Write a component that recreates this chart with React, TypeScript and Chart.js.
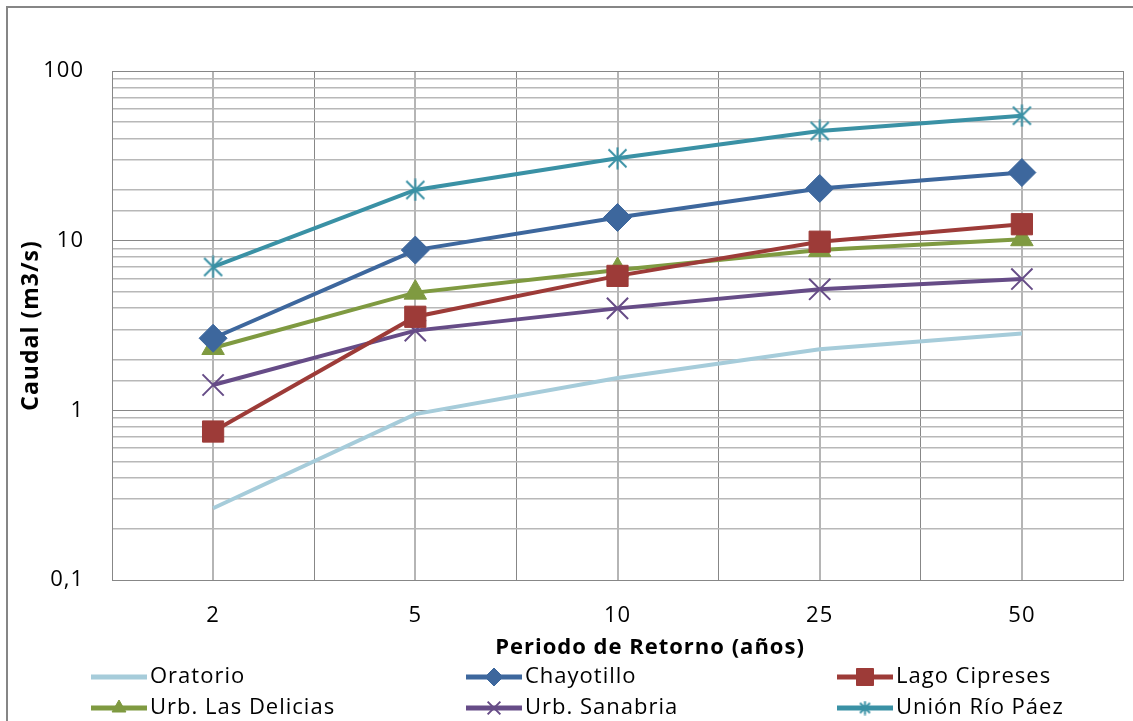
import React, { useEffect, useRef } from 'react';
import { Chart, registerables } from 'chart.js';
import { drawPoint } from 'chart.js/helpers';

Chart.register(...registerables);

const periods = ['2', '5', '10', '25', '50'];
const seriesNames = ['Oratorio', 'Chayotillo', 'Lago Cipreses', 'Urb. Las Delicias', 'Urb. Sanabria', 'Unión Río Páez'];
const oratorio = [0.265, 0.95, 1.55, 2.29, 2.84];
const chayotillo = [2.66, 8.8, 13.7, 20.3, 25.2];
const lagoCipreses = [0.75, 3.56, 6.2, 9.86, 12.5];
const urbLasDelicias = [2.33, 4.94, 6.72, 8.8, 10.2];
const urbSanabria = [1.41, 2.95, 3.99, 5.17, 5.94];
const unionRioPaez = [7.0, 19.9, 30.6, 44.3, 54.5];
const yTickValues = [0.1, 1, 10, 100];
const yTickLabels = ['0,1', '1', '10', '100'];
const xTitle = 'Periodo de Retorno (años)';
const yTitle = 'Caudal (m3/s)';

const seriesValues = [oratorio, chayotillo, lagoCipreses, urbLasDelicias, urbSanabria, unionRioPaez];
const colors = ['#A6CCDA', '#3D679D', '#9D3B38', '#7F9A41', '#664C87', '#3A91A5'];
const FONT = '"Open Sans", Lato, sans-serif';

function makeStar(color: string, size: number) {
  const c = document.createElement('canvas');
  c.width = size;
  c.height = size;
  const g = c.getContext('2d')!;
  g.strokeStyle = color;
  g.lineWidth = 2;
  const m = 1.5;
  g.beginPath();
  g.moveTo(size / 2, m - 1);
  g.lineTo(size / 2, size - m + 1);
  g.moveTo(m + 1, m + 1);
  g.lineTo(size - m - 1, size - m - 1);
  g.moveTo(size - m - 1, m + 1);
  g.lineTo(m + 1, size - m - 1);
  g.stroke();
  return c;
}

const isDecade = (v: number) => Math.abs(Math.log10(v) - Math.round(Math.log10(v))) < 1e-9;

export default function App() {
  const ref = useRef<HTMLCanvasElement>(null);

  useEffect(() => {
    if (!ref.current) return;
    const starBig = makeStar(colors[5], 23);
    const starSmall = makeStar(colors[5], 15);
    const styles: any[] = [
      { pointStyle: 'circle', radius: 0, legendRadius: 0, bw: 0 },
      { pointStyle: 'rectRot', radius: 14, legendRadius: 9, bw: 1 },
      { pointStyle: 'rect', radius: 15, legendRadius: 12, bw: 1 },
      { pointStyle: 'triangle', radius: 13, legendRadius: 8, bw: 1 },
      { pointStyle: 'crossRot', radius: 15, legendRadius: 9, bw: 2 },
      { pointStyle: starBig, radius: 11, legendRadius: 7, bw: 2, legendStyle: starSmall },
    ];

    const datasets = seriesValues.map((vals, i) => ({
      label: seriesNames[i],
      data: vals,
      borderColor: colors[i],
      backgroundColor: colors[i],
      borderWidth: 4,
      pointStyle: styles[i].pointStyle,
      pointRadius: styles[i].radius,
      pointBorderWidth: styles[i].bw,
      pointBackgroundColor: colors[i],
      pointBorderColor: colors[i],
      tension: 0,
      xAxisID: 'x',
      yAxisID: 'y',
    }));

    const spacingPlugin = {
      id: 'letterSpacing',
      beforeDraw(chart: any) {
        (chart.ctx as any).letterSpacing = '1px';
      },
    };

    const legendPlugin = {
      id: 'gridLegend',
      afterDraw(chart: any) {
        const ctx = chart.ctx;
        ctx.save();
        // x axis title, placed as in the original (slightly right of centre)
        (ctx as any).letterSpacing = '1px';
        ctx.fillStyle = '#000';
        ctx.font = `bold 22px ${FONT}`;
        ctx.textAlign = 'center';
        ctx.textBaseline = 'middle';
        ctx.fillText(xTitle, 650, 648);

        const colX = [91, 466, 837];
        const rowY = [677, 708];
        const lineLen = 56;
        chart.data.datasets.forEach((ds: any, i: number) => {
          const x = colX[i % 3];
          const y = rowY[Math.floor(i / 3)];
          ctx.strokeStyle = colors[i];
          ctx.lineWidth = 5;
          ctx.lineCap = 'butt';
          ctx.beginPath();
          ctx.moveTo(x, y);
          ctx.lineTo(x + lineLen, y);
          ctx.stroke();
          const st = styles[i];
          if (st.legendRadius > 0) {
            ctx.fillStyle = colors[i];
            ctx.strokeStyle = colors[i];
            ctx.lineWidth = st.bw;
            drawPoint(ctx, {
              pointStyle: st.legendStyle || st.pointStyle,
              radius: st.legendRadius,
              rotation: 0,
              borderWidth: st.bw,
            } as any, x + lineLen / 2, y);
          }
          ctx.fillStyle = '#000';
          ctx.font = `22px ${FONT}`;
          ctx.textAlign = 'left';
          ctx.textBaseline = 'middle';
          ctx.fillText(ds.label, x + lineLen + 3, y);
        });
        ctx.restore();
      },
    };

    const chart = new Chart(ref.current, {
      type: 'line',
      data: { labels: periods, datasets },
      options: {
        animation: false,
        responsive: false,
        events: [],
        layout: { autoPadding: false, padding: { top: 71, right: 10, bottom: 57, left: 0 } },
        plugins: { legend: { display: false }, tooltip: { enabled: false }, title: { display: false } },
        scales: {
          x: {
            type: 'category',
            position: 'bottom',
            offset: true,
            grid: { offset: true, color: '#878787', lineWidth: 1, drawTicks: false },
            border: { display: true, color: '#878787', width: 1 },
            ticks: { color: '#000', font: { family: FONT, size: 22 }, padding: 23 },
            title: { display: false, text: xTitle },
            afterFit(scale: any) {
              scale.height = 84;
              scale.paddingLeft = 0;
              scale.paddingRight = 0;
            },
          },
          x2: {
            type: 'category',
            position: 'top',
            offset: true,
            grid: { offset: false, color: '#b5b5b5', lineWidth: 2, drawTicks: false },
            border: { display: false },
            ticks: { display: false },
            afterFit(scale: any) {
              scale.height = 0;
              scale.paddingLeft = 0;
              scale.paddingRight = 0;
            },
          },
          y: {
            type: 'logarithmic',
            min: 0.1,
            max: 100,
            grid: {
              drawTicks: false,
              color: (c: any) => (c.tick && isDecade(c.tick.value) ? '#878787' : '#b8b8b8'),
              lineWidth: (c: any) => (c.tick && isDecade(c.tick.value) ? 1 : 1.5),
            },
            border: { display: true, color: '#878787', width: 1 },
            ticks: {
              autoSkip: false,
              color: '#000',
              font: { family: FONT, size: 22 },
              padding: 28,
              callback: (v: any) => {
                const idx = yTickValues.findIndex((t) => Math.abs(t - Number(v)) < 1e-9 * Math.max(1, t));
                return idx >= 0 ? yTickLabels[idx] : '';
              },
            },
            title: {
              display: true,
              text: yTitle,
              color: '#000',
              font: { family: FONT, size: 23, weight: 'bold' },
              padding: { top: 18, bottom: 0 },
            },
            afterFit(scale: any) {
              scale.width = 112;
            },
          },
        },
      } as any,
      plugins: [spacingPlugin, legendPlugin],
    });
    return () => chart.destroy();
  }, []);

  return (
    <div style={{ position: 'fixed', left: 0, top: 0, width: 1133, height: 721, overflow: 'hidden', background: '#fff' }}>
      <div
        style={{
          position: 'absolute',
          left: 6,
          top: 6,
          width: 1140,
          height: 740,
          border: '2px solid #868686',
          boxSizing: 'border-box',
        }}
      />
      <canvas ref={ref} width={1133} height={721} style={{ position: 'absolute', left: 0, top: 0 }} />
    </div>
  );
}
